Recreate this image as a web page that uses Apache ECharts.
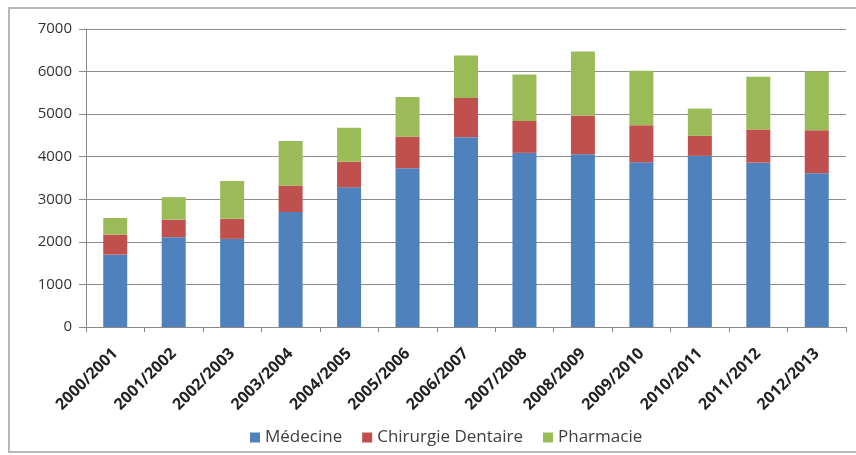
<!DOCTYPE html>
<html>
<head>
<meta charset="utf-8">
<script src="https://cdn.jsdelivr.net/npm/echarts@6/dist/echarts.min.js"></script>
<style>html,body{margin:0;padding:0;background:#fff;}#c{width:856px;height:455px;}</style>
</head>
<body>
<div id="c"></div>
<script>
const categories = ['2000/2001','2001/2002','2002/2003','2003/2004','2004/2005','2005/2006','2006/2007','2007/2008','2008/2009','2009/2010','2010/2011','2011/2012','2012/2013'];
const medecine = [1700,2110,2070,2700,3280,3730,4460,4090,4060,3870,4020,3860,3610];
const chirurgieDentaire = [470,410,470,620,600,740,920,750,910,870,470,780,1010];
const pharmacie = [390,530,890,1050,800,930,1000,1090,1500,1280,640,1240,1380];
const seriesNames = ['Médecine','Chirurgie Dentaire','Pharmacie'];

const chart = echarts.init(document.getElementById('c'));
const font = 'Open Sans, Liberation Sans, sans-serif';
chart.setOption({
  animation: false,
  color: ['#4F81BD','#C0504D','#9BBB59'],
  graphic: [{
    type: 'rect', shape: {x: 9, y: 8, width: 860, height: 444},
    style: {fill: 'none', stroke: '#b8b8b8', lineWidth: 2}, silent: true
  }],
  grid: {left: 86, right: 10, top: 29, bottom: 128},
  legend: {
    data: seriesNames, top: 424, left: 245,
    itemWidth: 10, itemHeight: 10, itemGap: 20, icon: 'rect',
    textStyle: {fontSize: 17, color: '#404040', fontFamily: font}
  },
  xAxis: {
    type: 'category', data: categories,
    axisLine: {lineStyle: {color: '#888', width: 1}},
    axisTick: {show: true, length: 5, lineStyle: {color: '#888'}},
    axisLabel: {rotate: 45, fontSize: 16, fontWeight: 'bold', color: '#222', fontFamily: font, margin: 24, interval: 0}
  },
  yAxis: {
    type: 'value', min: 0, max: 7000, interval: 1000,
    axisLine: {show: true, lineStyle: {color: '#888', width: 1}},
    axisTick: {show: true, length: 7, lineStyle: {color: '#888'}},
    axisLabel: {fontSize: 15, color: '#333', fontFamily: font, margin: 14, formatter: v => String(v)},
    splitLine: {lineStyle: {color: '#8c8c8c', width: 1}}
  },
  series: [
    {name: seriesNames[0], type: 'bar', stack: 't', data: medecine, barWidth: 24},
    {name: seriesNames[1], type: 'bar', stack: 't', data: chirurgieDentaire, barWidth: 24},
    {name: seriesNames[2], type: 'bar', stack: 't', data: pharmacie, barWidth: 24}
  ]
});
</script>
</body>
</html>
